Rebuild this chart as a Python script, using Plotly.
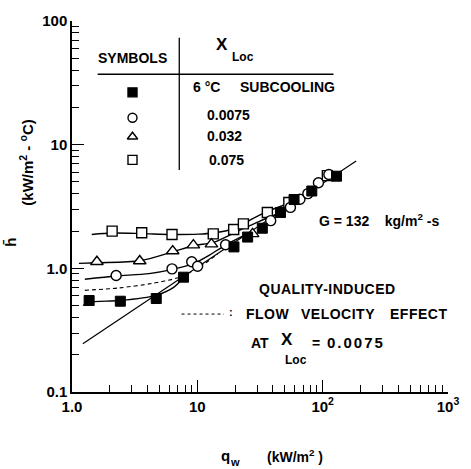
import plotly.graph_objects as go

# Heat flux q_w (kW/m^2) vs. mean heat transfer coefficient h (kW/m^2-C)
# 6 C subcooling (filled squares)
q_sub = [1.37, 2.43, 4.70, 7.76, 19.6, 25.2, 33.0, 46.1, 59.1, 81.9, 129]
h_sub = [0.549, 0.542, 0.57, 0.848, 1.49, 1.79, 2.11, 2.83, 3.6, 4.22, 5.56]
# X_Loc = 0.0075 (open circles)
q_x1 = [2.25, 6.28, 9.02, 10.05, 16.8, 38.5, 55.3, 65.9, 76.2, 92.5, 112]
h_x1 = [0.874, 0.99, 1.13, 1.04, 1.55, 2.43, 3.11, 3.62, 4.02, 4.92, 5.73]
# X_Loc = 0.032 (open triangles)
q_x2 = [1.58, 3.47, 6.36, 9.3, 12.96, 27.6]
h_x2 = [1.13, 1.146, 1.38, 1.54, 1.57, 1.9]
# X_Loc = 0.075 (open squares)
q_x3 = [2.09, 3.60, 6.28, 13.4, 19.5, 23.3, 36.2, 53.7, 109]
h_x3 = [2.0, 1.94, 1.88, 1.90, 2.06, 2.29, 2.83, 3.41, 5.62]

# Fitted curves
cq_sub = [1.227, 1.36, 2.43, 4.67, 6.47, 7.90]
ch_sub = [0.501, 0.532, 0.549, 0.605, 0.702, 0.859]
cq_x1 = [1.266, 2.26, 4.11, 6.24, 9.30, 12.2, 16.9, 25.2]
ch_x1 = [0.817, 0.866, 0.907, 0.976, 1.09, 1.26, 1.55, 1.91]
cq_x2 = [1.135, 1.60, 3.49, 6.36, 9.47, 13.4, 21.0, 31.3, 43.4]
ch_x2 = [1.096, 1.11, 1.152, 1.36, 1.53, 1.62, 2.0, 2.40, 2.75]
cq_x3 = [1.437, 2.10, 3.62, 6.24, 10.2, 13.3, 19.5, 25.2, 36.2, 62.4]
ch_x3 = [1.88, 1.93, 1.91, 1.88, 1.89, 1.93, 2.09, 2.40, 2.89, 3.52]
# Flow-velocity effect at X_Loc = 0.0075 (dashed)
cq_flow = [1.266, 2.39, 4.34, 7.09, 10.2, 14.6]
ch_flow = [0.664, 0.695, 0.755, 0.843, 1.01, 1.31]
# Asymptotic straight line
q_asym = [1.22, 185]
h_asym = [0.246, 7.37]

x_ticks = [1, 10, 100, 1000]
x_ticktext = ["1.0", "10", "10<sup>2</sup>", "10<sup>3</sup>"]
y_ticks = [0.1, 1, 10, 100]
y_ticktext = ["0.1", "1.0", "10", "100"]

FONT = "Liberation Sans, Arial, sans-serif"
W, H = 471, 469
ML, MR, MT, MB = 72, 18, 16, 77
PW, PH = W - ML - MR, H - MT - MB

fig = go.Figure()

line_style = dict(color="black", width=1.4)
fig.add_trace(go.Scatter(x=q_asym, y=h_asym, mode="lines", line=dict(color="black", width=1.2)))
for cq, ch in [(cq_sub, ch_sub), (cq_x1, ch_x1), (cq_x2, ch_x2), (cq_x3, ch_x3)]:
    fig.add_trace(go.Scatter(x=cq, y=ch, mode="lines",
                             line=dict(shape="spline", smoothing=0.8, **line_style)))
fig.add_trace(go.Scatter(x=cq_flow, y=ch_flow, mode="lines",
                         line=dict(shape="spline", smoothing=0.8, color="black",
                                   width=1.1, dash="4px,3px")))

open_marker = dict(color="white", line=dict(color="black", width=1.4))
fig.add_trace(go.Scatter(x=q_x3, y=h_x3, mode="markers",
                         marker=dict(symbol="square", size=10, **open_marker)))
fig.add_trace(go.Scatter(x=q_x2, y=h_x2, mode="markers",
                         marker=dict(symbol="triangle-up", size=11, **open_marker)))
fig.add_trace(go.Scatter(x=q_x1, y=h_x1, mode="markers",
                         marker=dict(symbol="circle", size=10, **open_marker)))
fig.add_trace(go.Scatter(x=q_sub, y=h_sub, mode="markers",
                         marker=dict(symbol="square", size=10, color="black",
                                     line=dict(color="black", width=1))))

# Symbol key drawn on a pixel-scaled overlay axis
key_x = [133.3, 133.3, 133.3, 133.3]
key_y = [88.3, 114, 133.3, 156.7]
key_sym = ["square", "circle-open", "triangle-up-open", "square-open"]
fig.add_trace(go.Scatter(x=key_x, y=key_y, mode="markers", xaxis="x2", yaxis="y2",
                         marker=dict(symbol=key_sym, size=9, color="black",
                                     line=dict(color="black", width=1.4))))

minor_vals = [k * 10 ** d for d in range(-1, 3) for k in range(2, 10)]
minor = dict(ticks="inside", ticklen=7, tickcolor="black", tickwidth=1.2,
             showgrid=False, tickmode="array", tickvals=minor_vals)
tick_font = dict(family=FONT, size=15, weight="bold")
fig.update_layout(
    width=W, height=H, margin=dict(l=ML, r=MR, t=MT, b=MB),
    paper_bgcolor="white", plot_bgcolor="white", showlegend=False,
    font=dict(family=FONT, color="black", size=15),
    xaxis=dict(type="log", range=[0, 3], showgrid=False, zeroline=False,
               showline=True, linecolor="black", linewidth=1.5,
               ticks="inside", ticklen=12, tickwidth=1.3, tickcolor="black",
               tickmode="array", tickvals=x_ticks, ticktext=x_ticktext,
               tickfont=tick_font, minor=minor),
    yaxis=dict(type="log", range=[-1, 2], showgrid=False, zeroline=False,
               showline=True, linecolor="black", linewidth=1.5,
               ticks="inside", ticklen=12, tickwidth=1.3, tickcolor="black",
               tickmode="array", tickvals=y_ticks, ticktext=y_ticktext,
               tickfont=tick_font, minor=minor),
    xaxis2=dict(range=[ML, W - MR], overlaying="x", visible=False),
    yaxis2=dict(range=[H - MB, MT], overlaying="y", visible=False),
)


def label(x, y, text, size=13, xanchor="left", angle=0, weight="bold"):
    # x, y given in figure pixels from the top-left corner
    fig.add_annotation(x=(x - ML) / PW, y=(H - MB - y) / PH, xref="paper", yref="paper",
                       text=text, showarrow=False,
                       xanchor=xanchor, yanchor="middle", textangle=angle,
                       font=dict(family=FONT, size=size, color="black", weight=weight))


def spaced(text, px):
    return f'<span style="letter-spacing:{px}px">{text}</span>'


# symbol key table
fig.add_shape(type="line", xref="x2", yref="y2", x0=98, x1=337, y0=70, y1=70,
              line=dict(color="black", width=1.5))
fig.add_shape(type="line", xref="x2", yref="y2", x0=180.7, x1=180.7, y0=33, y1=167,
              line=dict(color="black", width=1.3))
label(133, 53, "SYMBOLS", 14, "center")
label(216, 40, "X", 17)
label(232, 52, "Loc", 12)
label(193, 83, "6 \u00b0C", 14)
label(240, 83, "SUBCOOLING", 14)
label(207, 111, "0.0075", 14)
label(207, 133, "0.032", 14)
label(209, 157, "0.075", 14)

# in-plot notes
label(320, 218, "G = 132    kg/m<sup>2</sup> -s", 14)
label(259, 288, spaced("QUALITY-INDUCED", 0.5), 14)
fig.add_shape(type="line", xref="x2", yref="y2", x0=183, x1=226, y0=313, y1=313,
              line=dict(color="black", width=1, dash="3px,3px"))
label(229, 311, ":", 11)
label(246, 313, spaced("FLOW", 0.5), 14)
label(302, 313, spaced("VELOCITY", 0.5), 14)
label(392, 313, spaced("EFFECT", 0.5), 14)
label(251, 342, "AT", 14)
label(282, 339, "X", 17)
label(286, 360, "Loc", 12)
label(313, 342, "=", 14)
label(328, 342, spaced("0.0075", 2), 15)

# axis titles
label(9, 240, "h\u0304", 15, "center", -90)
label(25, 160, "(kW/m<sup>2</sup> - <sup>o</sup>C)", 15, "center", -90)
label(228, 456, "q", 15, "center")
label(237, 463, "w", 11, "center")
label(298, 457, "(kW/m<sup>2</sup> )", 14, "center")

fig.write_html("out.html")
